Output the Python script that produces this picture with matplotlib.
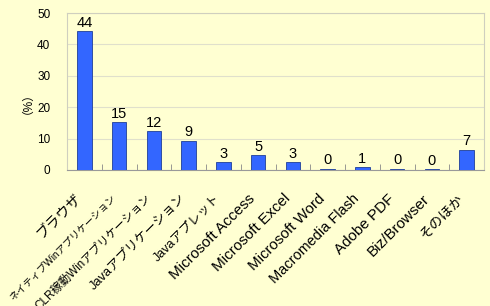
import matplotlib
matplotlib.use("Agg")
import matplotlib.pyplot as plt
import matplotlib.transforms as mtransforms

plt.rcParams['font.family'] = ['Liberation Sans', 'Noto Sans CJK JP', 'DejaVu Sans']

categories = ["ブラウザ", "ネイティブWinアプリケーション", "CLR稼動Winアプリケーション",
              "Javaアプリケーション", "Javaアプレット", "Microsoft Access",
              "Microsoft Excel", "Microsoft Word", "Macromedia Flash",
              "Adobe PDF", "Biz/Browser", "そのほか"]
# bar heights as drawn (percent), labels are the rounded values shown
values = [44.2, 15.2, 12.3, 9.3, 2.4, 4.7, 2.5, 0.3, 0.8, 0.3, 0.2, 6.5]
value_labels = ["44", "15", "12", "9", "3", "5", "3", "0", "1", "0", "0", "7"]
yticks = [0, 10, 20, 30, 40, 50]

# the original font has proportional kana; fit each label to the length it has there (px)
label_lengths = [57, 146, 158, 130, 89, 118, 106, 102, 120, 78, 82, 56]

bg = "#FFFFD2"
fig = plt.figure(figsize=(4.9, 3.06), dpi=100, facecolor=bg)
ax = fig.add_axes([67 / 490, 1 - 170 / 306, 417 / 490, 157 / 306])
ax.set_facecolor(bg)

x = list(range(len(categories)))
ax.bar(x, values, width=0.42, color="#3366FF", edgecolor="#1F3F99", linewidth=0.6, zorder=3)

for xi, v, lab in zip(x, values, value_labels):
    ax.text(xi, v + 0.5, lab, ha="center", va="bottom", fontsize=10.5, color="black")

ax.set_xlim(-0.5, len(categories) - 0.5)
ax.set_ylim(0, 50)
ax.set_yticks(yticks)
ax.tick_params(axis="y", length=0, labelsize=8.5, pad=12)
ax.yaxis.grid(True, color="#E0E0CC", linewidth=0.8, zorder=0)

ax.set_xticks([i + 0.5 for i in x[:-1]], minor=True)
ax.set_xticks(x)
ax.set_xticklabels(categories, rotation=45, ha="right", va="center", rotation_mode="anchor")
ax.tick_params(axis="x", which="major", length=0, pad=19)
ax.tick_params(axis="x", which="minor", length=4, direction="in", color="#888888")

renderer = fig.canvas.get_renderer()
shift = mtransforms.ScaledTranslation(-5 / 100, 0, fig.dpi_scale_trans)
for t, name, length in zip(ax.get_xticklabels(), categories, label_lengths):
    tmp = fig.text(0, 0, name, fontsize=10)
    w = tmp.get_window_extent(renderer).width
    tmp.remove()
    t.set_fontsize(min(11, 10 * length / w))
    t.set_transform(t.get_transform() + shift)

for s in ax.spines.values():
    s.set_color("#CFCFBF")
    s.set_linewidth(0.8)
ax.spines["bottom"].set_color("#999999")

fig.text(22 / 490, 1 - 97 / 306, "（%）", rotation=90, ha="center", va="center", fontsize=8.5)

fig.savefig("out.png", dpi=100, facecolor=bg)
